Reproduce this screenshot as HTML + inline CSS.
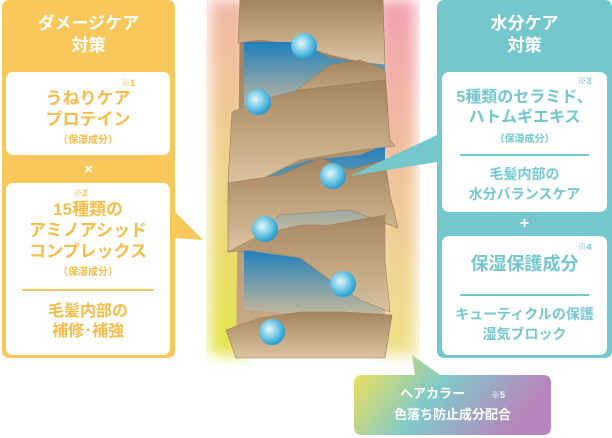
<!DOCTYPE html>
<html><head><meta charset="utf-8"><style>
body{margin:0;width:612px;height:438px;background:#fff;position:relative;overflow:hidden;font-family:"Liberation Sans","Noto Sans CJK JP",sans-serif;font-weight:bold}
.a{position:absolute}
.t{position:absolute;text-align:center;line-height:20px}
.box{position:absolute;background:#fff;border-radius:7px}
</style></head><body>
<svg class="a" style="left:0;top:0" width="612" height="438">
<defs>
<filter id="bl"><feGaussianBlur stdDeviation="7"/></filter>
<linearGradient id="gl" x1="0" y1="0" x2="0" y2="1"><stop offset="0" stop-color="#f2b7a6"/><stop offset="0.5" stop-color="#f0d58a"/><stop offset="1" stop-color="#e2e64a"/></linearGradient>
<linearGradient id="gr" x1="0" y1="0" x2="0" y2="1"><stop offset="0" stop-color="#f2a0b0"/><stop offset="0.5" stop-color="#f0c49a"/><stop offset="1" stop-color="#eee28a"/></linearGradient>
<linearGradient id="hair" x1="0" y1="0" x2="0" y2="1"><stop offset="0" stop-color="#9e7c5c"/><stop offset="1" stop-color="#c9ad88"/></linearGradient>
<linearGradient id="sc" x1="0" y1="0" x2="0" y2="1"><stop offset="0" stop-color="#a5835f"/><stop offset="1" stop-color="#dcc4a0"/></linearGradient>
<linearGradient id="blue" x1="0" y1="0" x2="0" y2="1"><stop offset="0" stop-color="#1f7fbd"/><stop offset="1" stop-color="#d5bd9a"/></linearGradient>
<radialGradient id="drop" cx="0.4" cy="0.4" r="0.6"><stop offset="0" stop-color="#e8f8fc"/><stop offset="0.6" stop-color="#6cc6e4"/><stop offset="1" stop-color="#2a9ccf"/></radialGradient>
<linearGradient id="bg" x1="0" y1="0" x2="1" y2="0.3"><stop offset="0" stop-color="#fde24c"/><stop offset="0.5" stop-color="#7fcac8"/><stop offset="1" stop-color="#b884bd"/></linearGradient>
</defs>
<rect x="210" y="0" width="38" height="355" fill="url(#gl)" filter="url(#bl)"/>
<rect x="378" y="0" width="38" height="355" fill="url(#gr)" filter="url(#bl)"/>
<path d="M240 0 H383 L385 358 H236 Z" fill="url(#hair)"/>
<g fill="url(#sc)" stroke="#9a7a58" stroke-width="0.6">
<path d="M240 0 H383 L385 65 L360 62 L330 55 L300 45 L260 40 L238 43 Z"/>
</g>
<path d="M244 42 L300 42 L330 58 L385 65 L385 110 L244 115 Z" fill="url(#blue)"/>
<path d="M246 180 L310 160 L360 155 L385 145 L385 215 L246 240 Z" fill="url(#blue)"/>
<path d="M244 250 L300 258 L330 280 L385 295 L385 320 L244 310 Z" fill="url(#blue)"/>
<g fill="url(#sc)" stroke="#9a7a58" stroke-width="0.6">
<path d="M290 95 L330 65 L360 60 L385 70 L388 112 L300 120 Z"/>
<path d="M232 112 L260 100 L300 90 L340 85 L385 80 L390 140 L395 146 L360 150 L300 160 L260 180 L228 183 Z"/>
<path d="M228 183 L280 175 L320 158 L350 170 L385 160 L390 195 L398 228 L350 210 L280 215 L250 245 L228 252 Z"/>
<path d="M228 252 L260 235 L300 225 L330 225 L385 215 L385 260 L390 312 L360 300 L330 280 L300 258 L260 250 Z" opacity="0.9"/>
<path d="M226 330 L260 318 L300 312 L345 312 L392 315 L385 358 H236 Z"/>
</g>
<g fill="url(#drop)">
<circle cx="304" cy="46" r="13"/><circle cx="258" cy="102" r="13"/><circle cx="333" cy="176" r="13"/><circle cx="265" cy="229" r="13"/><circle cx="343" cy="284" r="13"/><circle cx="272" cy="332" r="13"/>
</g>
<path d="M2 8 Q2 0 10 0 H167 Q175 0 175 8 V212 L203 240 L175 238 V350 Q175 358 167 358 H10 Q2 358 2 350 Z" fill="#f9c85a"/>
<path d="M437 8 Q437 0 445 0 H604 Q612 0 612 8 V350 Q612 358 604 358 H445 Q437 358 437 350 V162 L350 176 L437 135 Z" fill="#74c7cc"/>
<path d="M362 375 H415 L412 355 L440 375 H543 Q551 375 551 383 V427 Q551 435 543 435 H362 Q354 435 354 427 V383 Q354 375 362 375 Z" fill="url(#bg)"/>
</svg>
<div class="t" style="left:2px;width:173px;top:13px;color:#fff;font-size:17px;line-height:22px">ダメージケア<br>対策</div>
<div class="box" style="left:6px;top:72px;width:164px;height:83px"></div>
<div class="box" style="left:6px;top:183px;width:164px;height:172px"></div>
<div class="t" style="left:2px;width:173px;top:160px;color:#fff;font-size:15px">×</div>
<div class="t" style="left:6px;width:164px;top:78px;color:#f6bd48;font-size:9px;line-height:10px;text-indent:80px">※1</div>
<div class="t" style="left:6px;width:164px;top:88px;color:#f6bd48;font-size:17px;line-height:21px">うねりケア<br>プロテイン</div>
<div class="t" style="left:6px;width:164px;top:131px;color:#f6bd48;font-size:10px">（保湿成分）</div>
<div class="t" style="left:6px;width:164px;top:188px;color:#f6bd48;font-size:9px;line-height:10px;text-indent:-15px">※2</div>
<div class="t" style="left:6px;width:164px;top:199px;color:#f6bd48;font-size:17px;line-height:21px">15種類の<br>アミノアシッド<br>コンプレックス</div>
<div class="t" style="left:6px;width:164px;top:263px;color:#f6bd48;font-size:10px">（保湿成分）</div>
<div class="box" style="left:22px;top:289px;width:132px;height:1.5px;background:#f9c85a;border-radius:0"></div>
<div class="t" style="left:6px;width:164px;top:302px;color:#f6bd48;font-size:16px">毛髪内部の<br>補修･補強</div>
<div class="t" style="left:437px;width:175px;top:13px;color:#fff;font-size:17px;line-height:22px">水分ケア<br>対策</div>
<div class="box" style="left:442px;top:72px;width:165px;height:140px"></div>
<div class="box" style="left:442px;top:236px;width:165px;height:119px"></div>
<div class="t" style="left:437px;width:175px;top:214px;color:#fff;font-size:16px">+</div>
<div class="t" style="left:442px;width:165px;top:76px;color:#74c7cc;font-size:9px;line-height:10px;text-indent:120px">※3</div>
<div class="t" style="left:442px;width:165px;top:88px;color:#74c7cc;font-size:16px">5種類のセラミド、<br>ハトムギエキス</div>
<div class="t" style="left:442px;width:165px;top:130px;color:#74c7cc;font-size:10px">（保湿成分）</div>
<div class="box" style="left:460px;top:154px;width:129px;height:1.5px;background:#74c7cc;border-radius:0"></div>
<div class="t" style="left:442px;width:165px;top:164px;color:#74c7cc;font-size:14px">毛髪内部の<br>水分バランスケア</div>
<div class="t" style="left:442px;width:165px;top:242px;color:#74c7cc;font-size:9px;line-height:10px;text-indent:120px">※4</div>
<div class="t" style="left:442px;width:165px;top:254px;color:#74c7cc;font-size:18px">保湿保護成分</div>
<div class="box" style="left:460px;top:294px;width:129px;height:1.5px;background:#74c7cc;border-radius:0"></div>
<div class="t" style="left:442px;width:165px;top:304px;color:#74c7cc;font-size:14px">キューティクルの保護<br>湿気ブロック</div>
<div class="t" style="left:354px;width:197px;top:384px;color:#fff;font-size:13px;line-height:19px">ヘアカラー　　<span style="font-size:9px">※5</span><br>色落ち防止成分配合</div>
</body></html>
